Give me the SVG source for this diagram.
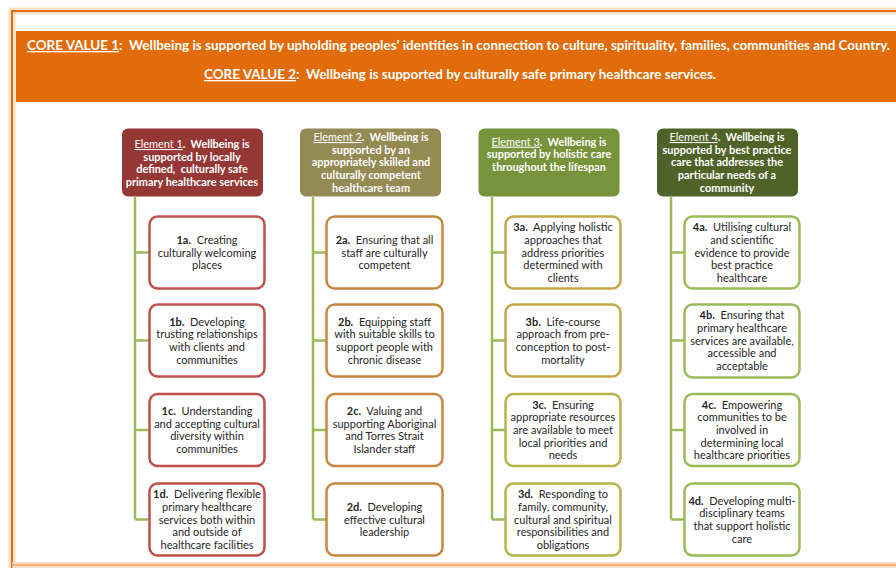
<svg xmlns="http://www.w3.org/2000/svg" width="896" height="568" viewBox="0 0 896 568">
<style>
text{font-family:Lato,"Liberation Sans",sans-serif;}
.ban{fill:#fff;font-weight:bold;font-size:13px;}
.hd{fill:#fff;font-size:10.9px;font-weight:bold;text-anchor:middle;}
.ul{text-decoration:underline;font-weight:normal;}
.sb{fill:#262626;font-size:11px;text-anchor:middle;}
.b{font-weight:bold;}
.box{fill:#fff;stroke-width:2.5;}
.c1{stroke:#C0504D;}
.c2{stroke:#C7873E;}
.c3{stroke:#C4A84A;}
.c3b{stroke:#B7B44A;}
.c4{stroke:#9BBB59;}
.conn{fill:none;stroke:#9BBB59;stroke-width:2.5;}
</style>
<rect x="0" y="0" width="896" height="568" fill="#fff"/>
<g id="frame">
<path d="M12 568 V11 H900" fill="none" stroke="#FBD4B4" stroke-width="7" opacity="0.7"/>
<path d="M12 568 V11 H900" fill="none" stroke="#E36C0A" stroke-width="2"/>
<path d="M12 565 H900" fill="none" stroke="#FBD4B4" stroke-width="6" opacity="0.8"/>
<path d="M12 565 H900" fill="none" stroke="#F5A05A" stroke-width="1.5"/>
</g>
<g id="banner">
<rect x="16" y="31" width="880" height="71" fill="#E36C0A"/>
<text class="ban" x="27" y="50" textLength="863" lengthAdjust="spacingAndGlyphs"><tspan text-decoration="underline">CORE VALUE 1</tspan>:&#160; Wellbeing is supported by upholding peoples’ identities in connection to culture, spirituality, families, communities and Country.</text>
<text class="ban" x="204" y="79" textLength="512" lengthAdjust="spacingAndGlyphs"><tspan text-decoration="underline">CORE VALUE 2</tspan>:&#160; Wellbeing is supported by culturally safe primary healthcare services.</text>
</g>
<g id="connectors">
<path class="conn" d="M135 197 V519.5 M135 252.5 H149.5 M135 340.5 H149.5 M135 430 H149.5 M135 519.5 H149.5"/>
<path class="conn" d="M313 197 V519.5 M313 252.5 H326.5 M313 340.5 H326.5 M313 430 H326.5 M313 519.5 H326.5"/>
<path class="conn" d="M492 197 V519.5 M492 252.5 H505.5 M492 340.5 H505.5 M492 430 H505.5 M492 519.5 H505.5"/>
<path class="conn" d="M671 197 V519.5 M671 252.5 H684.5 M671 340.5 H684.5 M671 430 H684.5 M671 519.5 H684.5"/>
</g>
<g id="element1">
<rect x="122" y="128.5" width="141" height="68" rx="6" fill="#953735"/>
<text class="hd" y="148"><tspan x="192"><tspan class="ul">Element 1</tspan>.&#160; Wellbeing is</tspan><tspan x="192" dy="12.7">supported by locally</tspan><tspan x="192" dy="12.7">defined,&#160; culturally safe</tspan><tspan x="192" dy="12.7">primary healthcare services</tspan></text>
</g>
<g id="element2">
<rect x="300" y="128.5" width="141" height="68" rx="6" fill="#948A54"/>
<text class="hd" y="141"><tspan x="371"><tspan class="ul">Element 2</tspan>.&#160; Wellbeing is</tspan><tspan x="371" dy="12.7">supported by an</tspan><tspan x="371" dy="12.7">appropriately skilled and</tspan><tspan x="371" dy="12.7">culturally competent</tspan><tspan x="371" dy="12.7">healthcare team</tspan></text>
</g>
<g id="element3">
<rect x="478.5" y="128.5" width="141" height="68" rx="6" fill="#77933C"/>
<text class="hd" y="145.7"><tspan x="549"><tspan class="ul">Element 3</tspan>.&#160; Wellbeing is</tspan><tspan x="549" dy="12.7">supported by holistic care</tspan><tspan x="549" dy="12.7">throughout the lifespan</tspan></text>
</g>
<g id="element4">
<rect x="657" y="128.5" width="141" height="68" rx="6" fill="#4F6228"/>
<text class="hd" y="141"><tspan x="727"><tspan class="ul">Element 4</tspan>.&#160; Wellbeing is</tspan><tspan x="727" dy="12.7">supported by best practice</tspan><tspan x="727" dy="12.7">care that addresses the</tspan><tspan x="727" dy="12.7">particular needs of a</tspan><tspan x="727" dy="12.7">community</tspan></text>
</g>
<g id="n1a"><rect class="box c1" x="149.5" y="216.5" width="115" height="72" rx="8"/>
<text class="sb" y="243.8"><tspan x="207"><tspan class="b">1a.</tspan>&#160; Creating</tspan><tspan x="207" dy="12.7">culturally welcoming</tspan><tspan x="207" dy="12.7">places</tspan></text></g>
<g id="n1b"><rect class="box c1" x="149.5" y="304.5" width="115" height="72" rx="8"/>
<text class="sb" y="325.5"><tspan x="207"><tspan class="b">1b.</tspan>&#160; Developing</tspan><tspan x="207" dy="12.7">trusting relationships</tspan><tspan x="207" dy="12.7">with clients and</tspan><tspan x="207" dy="12.7">communities</tspan></text></g>
<g id="n1c"><rect class="box c1" x="149.5" y="394" width="115" height="72" rx="8"/>
<text class="sb" y="415"><tspan x="207"><tspan class="b">1c.</tspan>&#160; Understanding</tspan><tspan x="207" dy="12.7">and accepting cultural</tspan><tspan x="207" dy="12.7">diversity within</tspan><tspan x="207" dy="12.7">communities</tspan></text></g>
<g id="n1d"><rect class="box c1" x="149.5" y="483.5" width="115" height="72" rx="8"/>
<text class="sb" y="498.1"><tspan x="207"><tspan class="b">1d.</tspan>&#160; Delivering flexible</tspan><tspan x="207" dy="12.7">primary healthcare</tspan><tspan x="207" dy="12.7">services both within</tspan><tspan x="207" dy="12.7">and outside of</tspan><tspan x="207" dy="12.7">healthcare facilities</tspan></text></g>
<g id="n2a"><rect class="box c2" x="326.5" y="216.5" width="116" height="72" rx="8"/>
<text class="sb" y="243.8"><tspan x="384.5"><tspan class="b">2a.</tspan>&#160; Ensuring that all</tspan><tspan x="384.5" dy="12.7">staff are culturally</tspan><tspan x="384.5" dy="12.7">competent</tspan></text></g>
<g id="n2b"><rect class="box c2" x="326.5" y="304.5" width="116" height="72" rx="8"/>
<text class="sb" y="325.5"><tspan x="384.5"><tspan class="b">2b.</tspan>&#160; Equipping staff</tspan><tspan x="384.5" dy="12.7">with suitable skills to</tspan><tspan x="384.5" dy="12.7">support people with</tspan><tspan x="384.5" dy="12.7">chronic disease</tspan></text></g>
<g id="n2c"><rect class="box c2" x="326.5" y="394" width="116" height="72" rx="8"/>
<text class="sb" y="415"><tspan x="384.5"><tspan class="b">2c.</tspan>&#160; Valuing and</tspan><tspan x="384.5" dy="12.7">supporting Aboriginal</tspan><tspan x="384.5" dy="12.7">and Torres Strait</tspan><tspan x="384.5" dy="12.7">Islander staff</tspan></text></g>
<g id="n2d"><rect class="box c2" x="326.5" y="483.5" width="116" height="72" rx="8"/>
<text class="sb" y="510.8"><tspan x="384.5"><tspan class="b">2d.</tspan>&#160; Developing</tspan><tspan x="384.5" dy="12.7">effective cultural</tspan><tspan x="384.5" dy="12.7">leadership</tspan></text></g>
<g id="n3a"><rect class="box c3" x="505.5" y="216.5" width="115" height="72" rx="8"/>
<text class="sb" y="231.1"><tspan x="563"><tspan class="b">3a.</tspan>&#160; Applying holistic</tspan><tspan x="563" dy="12.7">approaches that</tspan><tspan x="563" dy="12.7">address priorities</tspan><tspan x="563" dy="12.7">determined with</tspan><tspan x="563" dy="12.7">clients</tspan></text></g>
<g id="n3b"><rect class="box c3" x="505.5" y="304.5" width="115" height="72" rx="8"/>
<text class="sb" y="325.5"><tspan x="563"><tspan class="b">3b.</tspan>&#160; Life-course</tspan><tspan x="563" dy="12.7">approach from pre-</tspan><tspan x="563" dy="12.7">conception to post-</tspan><tspan x="563" dy="12.7">mortality</tspan></text></g>
<g id="n3c"><rect class="box c3b" x="505.5" y="394" width="115" height="72" rx="8"/>
<text class="sb" y="408.6"><tspan x="563"><tspan class="b">3c.</tspan>&#160; Ensuring</tspan><tspan x="563" dy="12.7">appropriate resources</tspan><tspan x="563" dy="12.7">are available to meet</tspan><tspan x="563" dy="12.7">local priorities and</tspan><tspan x="563" dy="12.7">needs</tspan></text></g>
<g id="n3d"><rect class="box c3b" x="505.5" y="483.5" width="115" height="72" rx="8"/>
<text class="sb" y="498.1"><tspan x="563"><tspan class="b">3d.</tspan>&#160; Responding to</tspan><tspan x="563" dy="12.7">family, community,</tspan><tspan x="563" dy="12.7">cultural and spiritual</tspan><tspan x="563" dy="12.7">responsibilities and</tspan><tspan x="563" dy="12.7">obligations</tspan></text></g>
<g id="n4a"><rect class="box c4" x="684.5" y="216.5" width="115" height="72" rx="8"/>
<text class="sb" y="231.1"><tspan x="742"><tspan class="b">4a.</tspan>&#160; Utilising cultural</tspan><tspan x="742" dy="12.7">and scientific</tspan><tspan x="742" dy="12.7">evidence to provide</tspan><tspan x="742" dy="12.7">best practice</tspan><tspan x="742" dy="12.7">healthcare</tspan></text></g>
<g id="n4b"><rect class="box c4" x="684.5" y="304.5" width="115" height="73" rx="8"/>
<text class="sb" y="319.1"><tspan x="742"><tspan class="b">4b.</tspan>&#160; Ensuring that</tspan><tspan x="742" dy="12.7">primary healthcare</tspan><tspan x="742" dy="12.7">services are available,</tspan><tspan x="742" dy="12.7">accessible and</tspan><tspan x="742" dy="12.7">acceptable</tspan></text></g>
<g id="n4c"><rect class="box c4" x="684.5" y="394" width="115" height="72" rx="8"/>
<text class="sb" y="408.6"><tspan x="742"><tspan class="b">4c.</tspan>&#160; Empowering</tspan><tspan x="742" dy="12.7">communities to be</tspan><tspan x="742" dy="12.7">involved in</tspan><tspan x="742" dy="12.7">determining local</tspan><tspan x="742" dy="12.7">healthcare priorities</tspan></text></g>
<g id="n4d"><rect class="box c4" x="684.5" y="483.5" width="115" height="72" rx="8"/>
<text class="sb" y="504.5"><tspan x="742"><tspan class="b">4d.</tspan>&#160; Developing multi-</tspan><tspan x="742" dy="12.7">disciplinary teams</tspan><tspan x="742" dy="12.7">that support holistic</tspan><tspan x="742" dy="12.7">care</tspan></text></g>
</svg>
